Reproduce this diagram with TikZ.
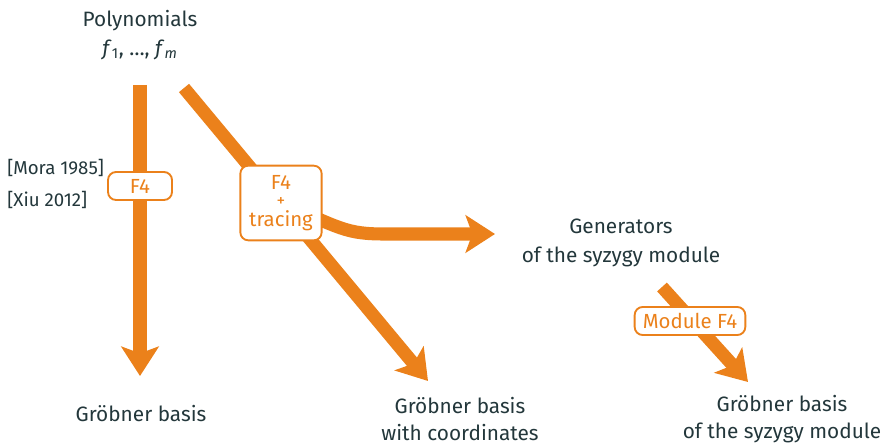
\documentclass[tikz,border=0pt]{standalone}
\usepackage{fontspec}
\setmainfont{Fira Sans}
\usetikzlibrary{arrows.meta,backgrounds}
\definecolor{mOrange}{HTML}{EB811B}
\definecolor{mDark}{HTML}{23373B}
\begin{document}
\begin{tikzpicture}[
    x=0.75pt, y=-0.75pt,
    line cap=butt,
    label/.style={text=mDark, font=\fontsize{15.6}{20.5}\selectfont, align=center, inner sep=0pt},
    cite/.style={text=mDark, font=\fontsize{14}{16}\selectfont, anchor=west, inner sep=0pt},
    algobox/.style={draw=mOrange, fill=white, text=mOrange, line width=1.4pt, rounded corners=6pt,
                    font=\fontsize{15.3}{15}\selectfont, align=center, inner sep=0pt},
    flow/.style={draw=mOrange, line width=9.8pt,
                 -{Stealth[length=22pt, width=28pt, inset=5pt]}}
]
\useasboundingbox (0,0) rectangle (885,445);

% texts
\node[label] (poly) at (140,35) {Polynomials\\[1pt]\textit{f}\textsubscript{1}, \dots, \textit{f}\textsubscript{\textit{m}}};
\node[label] (gb)   at (141,414) {Gröbner basis};
\node[label] (gbc)  at (460,419) {Gröbner basis\\with coordinates};
\node[label] (gen)  at (621,243) {Generators\\[1pt]of the syzygy module};
\node[label] (gbs)  at (782,419) {Gröbner basis\\of the syzygy module};
\node[cite] (mora) at (7,168) {[Mora 1985]};
\node[cite] (xiu)  at (7,200) {[Xiu 2012]};

% boxes
\node[algobox, minimum width=48pt, minimum height=21pt] (f4) at (140,186) {F4};
\node[algobox, minimum width=61pt, minimum height=56pt] (trace) at (281,203)
    {F4\\[-2pt]{\fontsize{13}{13}\selectfont +}\\[0pt]tracing};
\node[algobox, minimum width=83pt, minimum height=21pt] (modf4) at (690,321) {Module F4};

% arrow ends
\coordinate (s1) at (140,85);
\coordinate (e1) at (140,376);
\coordinate (s2) at (184,88);
\coordinate (e2) at (428,381);
\coordinate (bend) at (385,234);
\coordinate (e3) at (495,234);
\coordinate (s4) at (662,287);
\coordinate (e4) at (748,382);

\begin{scope}[on background layer]
  \draw[flow] (s1) -- (e1);
  \draw[flow] (s2) -- (e2);
  \draw[flow] (trace.center) .. controls +(60,25) and +(-40,0) .. (bend) -- (e3);
  \draw[flow] (s4) -- (e4);
\end{scope}
\end{tikzpicture}
\end{document}
